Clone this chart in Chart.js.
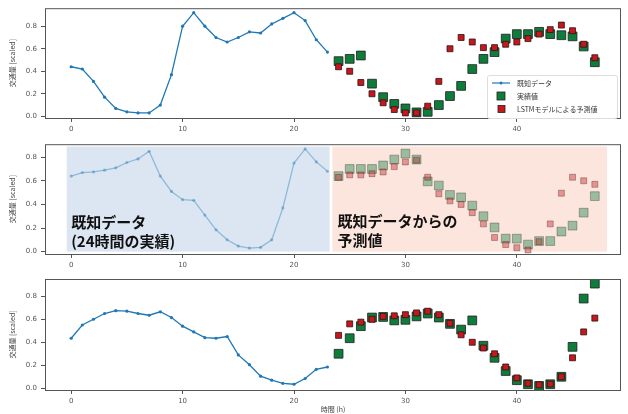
<!DOCTYPE html>
<html>
<head>
<meta charset="utf-8">
<script src="https://cdn.jsdelivr.net/npm/chart.js@4"></script>
<style>
  body { margin: 0; background: #fff; }
  .panel { position: absolute; left: 0; width: 628px; }
  .panel canvas { display: block; }
</style>
</head>
<body>
<div class="panel" style="top:0;height:136px"><canvas id="c1" width="628" height="136"></canvas></div>
<div class="panel" style="top:136px;height:134px"><canvas id="c2" width="628" height="134"></canvas></div>
<div class="panel" style="top:270px;height:144px"><canvas id="c3" width="628" height="144"></canvas></div>
<script>
// hours
const knownHours = [0,1,2,3,4,5,6,7,8,9,10,11,12,13,14,15,16,17,18,19,20,21,22,23];
const futureHours = [24,25,26,27,28,29,30,31,32,33,34,35,36,37,38,39,40,41,42,43,44,45,46,47];
const xTicks = [0,10,20,30,40];
const yTicks = [0.0,0.2,0.4,0.6,0.8];

// panel 1
const known1 = [0.44,0.42,0.31,0.17,0.07,0.04,0.03,0.03,0.10,0.37,0.80,0.92,0.80,0.70,0.66,0.70,0.75,0.74,0.82,0.87,0.92,0.85,0.68,0.57];
const actual1 = [0.49,0.51,0.54,0.29,0.17,0.11,0.07,0.035,0.04,0.10,0.18,0.27,0.42,0.51,0.57,0.69,0.73,0.73,0.75,0.73,0.72,0.71,0.62,0.48];
const pred1 = [0.44,0.40,0.30,0.20,0.12,0.06,0.03,0.03,0.09,0.31,0.60,0.70,0.66,0.61,0.61,0.64,0.66,0.69,0.73,0.77,0.81,0.76,0.64,0.52];

// panel 2
const known2 = [0.64,0.67,0.675,0.69,0.71,0.755,0.785,0.85,0.64,0.51,0.44,0.435,0.31,0.185,0.10,0.047,0.03,0.036,0.10,0.37,0.75,0.87,0.76,0.68];
const actual2 = [0.64,0.70,0.70,0.70,0.73,0.78,0.83,0.78,0.595,0.56,0.48,0.46,0.39,0.30,0.205,0.11,0.11,0.06,0.09,0.09,0.17,0.22,0.33,0.47];
const pred2 = [0.63,0.65,0.65,0.66,0.675,0.72,0.76,0.775,0.63,0.49,0.43,0.40,0.33,0.235,0.12,0.06,0.033,0.014,0.085,0.235,0.495,0.63,0.60,0.57];

// panel 3
const known3 = [0.435,0.55,0.60,0.65,0.675,0.67,0.65,0.635,0.665,0.615,0.54,0.49,0.44,0.435,0.45,0.29,0.205,0.105,0.07,0.043,0.035,0.085,0.165,0.185];
const actual3 = [0.30,0.435,0.54,0.615,0.62,0.59,0.595,0.625,0.65,0.615,0.56,0.51,0.59,0.37,0.265,0.15,0.07,0.035,0.02,0.035,0.10,0.36,0.78,0.91];
const pred3 = [0.46,0.56,0.575,0.60,0.625,0.63,0.64,0.655,0.67,0.64,0.565,0.465,0.40,0.35,0.30,0.185,0.09,0.043,0.03,0.037,0.10,0.265,0.49,0.61];

const labels = ['既知データ', '実績値', 'LSTMモデルによる予測値'];
const yTitle = '交通量 [scaled]';
const xTitle = '時間 (h)';

const TICKFONT = { family: 'DejaVu Sans', size: 7 };
const JPFONT = '"Noto Sans CJK JP", sans-serif';

function pts(xs, ys) { return xs.map((x, i) => ({ x: x, y: ys[i] })); }

// frame, spans, notes, legend
const extras = {
  id: 'extras',
  beforeDatasetsDraw(chart) {
    const o = chart.options.plugins.extras;
    const { ctx } = chart;
    const xs = chart.scales.x, ys = chart.scales.y;
    (o.spans || []).forEach(s => {
      ctx.save();
      ctx.fillStyle = s.color;
      const x0 = xs.getPixelForValue(s.from), x1 = xs.getPixelForValue(s.to);
      const y0 = ys.getPixelForValue(s.top), y1 = ys.getPixelForValue(s.bottom);
      ctx.fillRect(x0, y0, x1 - x0, y1 - y0);
      ctx.restore();
    });
  },
  afterDatasetsDraw(chart) {
    const o = chart.options.plugins.extras;
    const { ctx, chartArea: a } = chart;
    const xs = chart.scales.x, ys = chart.scales.y;
    ctx.save();
    ctx.strokeStyle = '#555';
    ctx.lineWidth = 1;
    ctx.strokeRect(a.left + 0.5, a.top + 0.5, a.right - a.left - 1, a.bottom - a.top);
    ctx.restore();
    (o.notes || []).forEach(n => {
      ctx.save();
      ctx.fillStyle = '#111';
      ctx.font = 'bold 15px ' + JPFONT;
      ctx.textBaseline = 'middle';
      n.lines.forEach((t, i) => {
        ctx.fillText(t, xs.getPixelForValue(n.x), ys.getPixelForValue(n.y) + i * 19);
      });
      ctx.restore();
    });
    if (o.legend) {
      const L = o.legend;
      ctx.save();
      ctx.fillStyle = 'rgba(255,255,255,0.85)';
      ctx.strokeStyle = '#ddd';
      ctx.lineWidth = 1;
      ctx.beginPath();
      ctx.roundRect(L.x + 0.5, L.y + 0.5, L.w, L.h, 2);
      ctx.fill(); ctx.stroke();
      ctx.font = '7px ' + JPFONT;
      ctx.textBaseline = 'middle';
      const rows = [L.y + 8, L.y + 21, L.y + 34];
      // line entry
      ctx.strokeStyle = '#1f77b4'; ctx.lineWidth = 1.2;
      ctx.beginPath(); ctx.moveTo(L.x + 5, rows[0]); ctx.lineTo(L.x + 23, rows[0]); ctx.stroke();
      ctx.fillStyle = '#1f77b4';
      ctx.beginPath(); ctx.arc(L.x + 14, rows[0], 1.5, 0, Math.PI * 2); ctx.fill();
      // green square
      ctx.fillStyle = '#0e7d3c'; ctx.strokeStyle = '#222'; ctx.lineWidth = 0.8;
      ctx.fillRect(L.x + 10, rows[1] - 4, 8, 8); ctx.strokeRect(L.x + 10, rows[1] - 4, 8, 8);
      ctx.fillStyle = '#c8161d';
      ctx.fillRect(L.x + 11, rows[2] - 3.5, 7, 7); ctx.strokeRect(L.x + 11, rows[2] - 3.5, 7, 7);
      ctx.fillStyle = '#333';
      labels.forEach((t, i) => ctx.fillText(t, L.x + 30, rows[i]));
      ctx.restore();
    }
  }
};

function makePanel(id, known, actual, pred, opt) {
  const a = opt.alpha;
  const datasets = [
    {
      label: labels[2], data: pts(futureHours, pred), order: 0,
      pointStyle: 'rect', pointRadius: 4.2, pointBorderWidth: 0.8,
      backgroundColor: `rgba(200,22,29,${a})`, borderColor: `rgba(40,20,20,${a})`
    },
    {
      label: labels[1], data: pts(futureHours, actual), order: 1,
      pointStyle: 'rect', pointRadius: 6.2, pointBorderWidth: 0.8,
      backgroundColor: `rgba(14,125,60,${a})`, borderColor: `rgba(30,30,30,${a})`
    },
    {
      label: labels[0], data: pts(knownHours, known), order: 2, showLine: true,
      borderColor: `rgba(31,119,180,${a})`, backgroundColor: `rgba(31,119,180,${a})`,
      borderWidth: 1.3, pointRadius: 1.6, pointBorderWidth: 0, tension: 0
    }
  ];
  return new Chart(document.getElementById(id), {
    type: 'scatter',
    data: { datasets: datasets },
    options: {
      responsive: false,
      animation: false,
      layout: { padding: { top: opt.top, right: 5, left: 0, bottom: 0 } },
      plugins: {
        legend: { display: false },
        tooltip: { enabled: false },
        extras: opt.extras
      },
      scales: {
        x: {
          type: 'linear', min: -2.35, max: 49.35,
          afterBuildTicks: s => { s.ticks = xTicks.map(v => ({ value: v })); },
          afterFit: s => { s.height = opt.xh; },
          grid: { drawOnChartArea: false, tickLength: 4, color: '#555' },
          border: { display: false },
          ticks: { font: TICKFONT, color: '#555', padding: 3, maxRotation: 0 },
          title: { display: !!opt.xTitle, text: xTitle, font: { family: JPFONT, size: 7 }, color: '#444', padding: { top: 2, bottom: 0 } }
        },
        y: {
          min: opt.ymin, max: opt.ymax,
          afterBuildTicks: s => { s.ticks = yTicks.map(v => ({ value: v })); },
          afterFit: s => { s.width = 45; },
          grid: { drawOnChartArea: false, tickLength: 4, color: '#555' },
          border: { display: false },
          ticks: { font: TICKFONT, color: '#555', padding: 4, callback: v => v.toFixed(1) },
          title: { display: true, text: yTitle, font: { family: JPFONT, size: 7 }, color: '#444', padding: { top: 8, bottom: 0 } }
        }
      }
    },
    plugins: [extras]
  });
}

makePanel('c1', known1, actual1, pred1, {
  alpha: 1, top: 8, xh: 18, ymin: -0.015, ymax: 0.96,
  extras: { legend: { x: 487, y: 75, w: 130, h: 43 } }
});
makePanel('c2', known2, actual2, pred2, {
  alpha: 0.4, top: 8, xh: 16, ymin: -0.02, ymax: 0.91,
  extras: {
    spans: [
      { from: -0.4, to: 23.2, top: 0.89, bottom: 0.0, color: '#dce6f2' },
      { from: 23.45, to: 48.1, top: 0.89, bottom: 0.0, color: '#fbe5dc' }
    ],
    notes: [
      { x: 0, y: 0.25, lines: ['既知データ', '(24時間の実績)'] },
      { x: 23.9, y: 0.26, lines: ['既知データからの', '予測値'] }
    ]
  }
});
makePanel('c3', known3, actual3, pred3, {
  alpha: 1, top: 9, xh: 24, ymin: -0.015, ymax: 0.95, xTitle: true,
  extras: {}
});
</script>
</body>
</html>
